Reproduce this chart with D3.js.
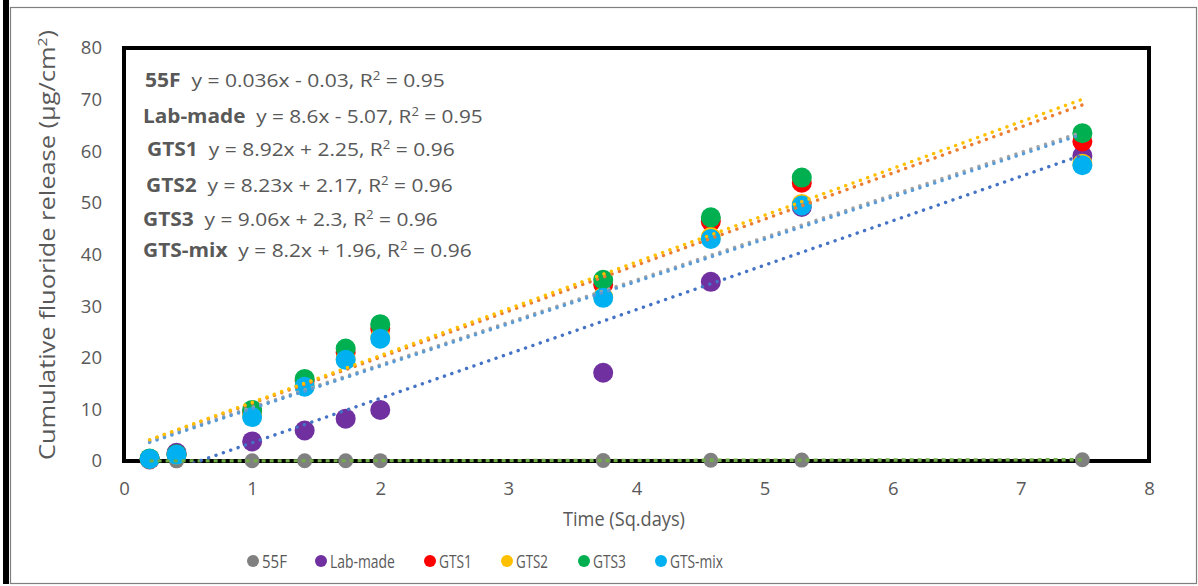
<!DOCTYPE html>
<html><head><meta charset="utf-8">
<script src="https://cdn.jsdelivr.net/npm/d3@7"></script>
<style>body{margin:0;background:#fff}svg{display:block}</style>
</head><body>
<script>
const xDays = [0.2, 0.41, 1, 1.41, 1.73, 2, 3.74, 4.58, 5.29, 7.48];
const seriesNames = ["55F", "Lab-made", "GTS1", "GTS2", "GTS3", "GTS-mix"];
const s55F    = [0.02, 0.03, 0.04, 0.05, 0.06, 0.07, 0.1, 0.14, 0.17, 0.25];
const sLab    = [0.3, 1.6, 3.8, 5.9, 8.2, 9.9, 17.1, 34.7, 49.2, 59.1];
const sGTS1   = [0.4, 1.2, 9.5, 15.5, 21.0, 25.6, 34.2, 46.4, 53.9, 61.9];
const sGTS2   = [0.4, 1.2, 8.8, 14.6, 19.8, 24.0, 31.8, 43.4, 49.8, 57.6];
const sGTS3   = [0.5, 1.3, 9.9, 15.9, 21.8, 26.5, 35.1, 47.2, 54.9, 63.5];
const sMix    = [0.4, 1.2, 8.5, 14.4, 19.6, 23.7, 31.6, 43.0, 49.5, 57.3];
const slopes     = [0.036, 8.6, 8.92, 8.23, 9.06, 8.2];
const intercepts = [-0.03, -5.07, 2.25, 2.17, 2.3, 1.96];
const r2         = ["0.95", "0.95", "0.96", "0.96", "0.96", "0.96"];
const eqTexts = ["y = 0.036x - 0.03", "y = 8.6x - 5.07", "y = 8.92x + 2.25", "y = 8.23x + 2.17", "y = 9.06x + 2.3", "y = 8.2x + 1.96"];
const xTicks = [0,1,2,3,4,5,6,7,8];
const yTicks = [0,10,20,30,40,50,60,70,80];

const markerColors = ["#808080", "#7030A0", "#FF0000", "#FFC000", "#00B050", "#00B0F0"];
const trendColors  = ["#70AD47", "#4472C4", "#ED7D31", "#A5A5A5", "#FFC000", "#5B9BD5"];
const allSeries = [s55F, sLab, sGTS1, sGTS2, sGTS3, sMix];

const W = 1198, H = 586;
const svg = d3.select("body").append("svg").attr("width", W).attr("height", H);
const font = "'Open Sans', sans-serif";
const txt = "#595959";

// squeeze a text horizontally to a target width (Calibri-like narrow look)
function fit(sel, ax, ay, target, anchor) {
  const w = sel.node().getComputedTextLength();
  const k = target / w;
  const dx = anchor === "middle" ? -target / 2 : 0;
  sel.attr("x", 0).attr("y", 0).attr("text-anchor", "start")
     .attr("transform", `translate(${ax + dx},${ay}) scale(${k},1)`);
}

// outer border
svg.append("rect").attr("x", 10.5).attr("y", 7.5).attr("width", 1186).attr("height", 576)
  .attr("fill", "none").attr("stroke", "#7f7f7f").attr("stroke-width", 1.2);
svg.append("rect").attr("x", 3).attr("y", 0).attr("width", 6).attr("height", 584).attr("fill", "#000");

const x = d3.scaleLinear().domain([0, 8]).range([124, 1149]);
const y = d3.scaleLinear().domain([0, 80]).range([461, 48]);

const xAx = svg.append("g").attr("transform", "translate(0,461)")
  .call(d3.axisBottom(x).tickValues(xTicks).tickSize(0).tickPadding(21).tickFormat(d3.format("d")));
const yAx = svg.append("g").attr("transform", "translate(124,0)")
  .call(d3.axisLeft(y).tickValues(yTicks).tickSize(0).tickPadding(22).tickFormat(d3.format("d")));
[xAx, yAx].forEach(g => {
  g.select(".domain").remove();
  g.selectAll("text").attr("font-family", font).attr("font-size", 18.5).attr("fill", txt);
});

// plot frame
svg.append("rect").attr("x", x(0)).attr("y", y(80)).attr("width", x(8) - x(0)).attr("height", y(0) - y(80))
  .attr("fill", "none").attr("stroke", "#000").attr("stroke-width", 4);

svg.append("clipPath").attr("id", "pc").append("rect")
  .attr("x", x(0)).attr("y", y(80)).attr("width", x(8) - x(0)).attr("height", y(0) - y(80) + 1.5);

// markers
allSeries.forEach((vals, i) => {
  svg.append("g").selectAll("circle").data(vals).join("circle")
    .attr("cx", (d, j) => x(xDays[j])).attr("cy", d => y(d))
    .attr("r", i === 0 ? 7.5 : 10)
    .attr("fill", markerColors[i]);
});

// trend lines
const tl = svg.append("g").attr("clip-path", "url(#pc)");
const x0 = d3.min(xDays), x1 = d3.max(xDays);
[0, 1, 2, 3, 5, 4].forEach(i => {
  const pts = [[x0, slopes[i] * x0 + intercepts[i]], [x1, slopes[i] * x1 + intercepts[i]]];
  const line = d3.line().x(d => x(d[0])).y(d => y(d[1]));
  tl.append("path").attr("d", line(pts))
    .attr("fill", "none").attr("stroke", trendColors[i])
    .attr("stroke-width", 3.4)
    .attr("stroke-linecap", i === 0 ? "butt" : "round")
    .attr("stroke-dasharray", i === 0 ? "4,4" : "0.1,7.7");
});

// equations
const eqX = [145, 143, 147, 146, 143, 143];
const eqY = [87, 123, 156, 192, 226, 257];
const eqEnd = [445, 483, 455, 453, 438, 472];
seriesNames.forEach((n, i) => {
  const t = svg.append("text")
    .attr("font-family", font).attr("font-size", 19).attr("fill", txt);
  t.append("tspan").attr("font-weight", "bold").text(n);
  t.append("tspan").text("\u00a0\u00a0" + eqTexts[i] + ", R");
  t.append("tspan").text("2").attr("font-size", 12).attr("dy", -7);
  t.append("tspan").text(" = " + r2[i]).attr("dy", 7);
  fit(t, eqX[i], eqY[i], eqEnd[i] - eqX[i], "start");
});

// axis titles
const xt = svg.append("text").attr("font-family", font).attr("font-size", 20).attr("fill", txt).text("Time (Sq.days)");
fit(xt, 624, 526, 122, "middle");
const ytG = svg.append("g").attr("transform", "translate(55,0) rotate(-90)");
const yt = ytG.append("text").attr("font-family", font).attr("font-size", 21).attr("fill", txt);
yt.append("tspan").text("Cumulative fluoride release (µg/cm");
yt.append("tspan").text("2").attr("font-size", 13).attr("dy", -8);
yt.append("tspan").text(")").attr("dy", 8);
fit(yt, -245, 0, 430, "middle");

// legend
const legX = [253, 321, 430, 507, 584, 661];
const legW = [25, 65, 33, 32, 33, 53];
seriesNames.forEach((n, i) => {
  svg.append("circle").attr("cx", legX[i]).attr("cy", 561).attr("r", 6).attr("fill", markerColors[i]);
  const t = svg.append("text").attr("font-family", font).attr("font-size", 19).attr("fill", txt).text(n);
  fit(t, legX[i] + 9, 568, legW[i], "start");
});
</script>
</body></html>
